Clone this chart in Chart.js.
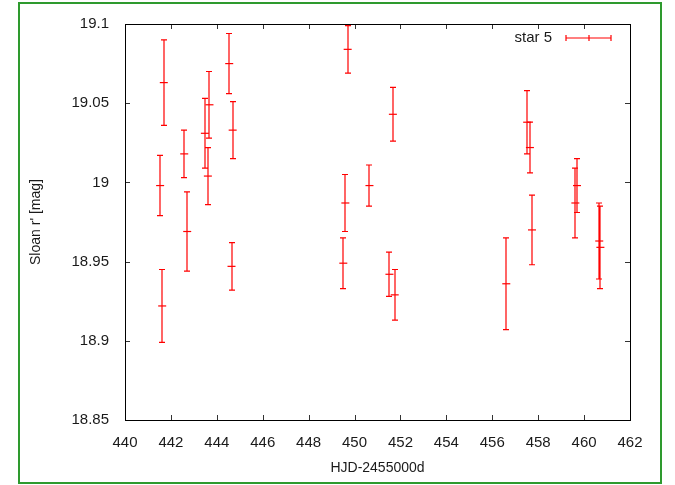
<!DOCTYPE html>
<html>
<head>
<meta charset="utf-8">
<script src="https://cdn.jsdelivr.net/npm/chart.js@4/dist/chart.umd.min.js"></script>
<style>
html, body { margin: 0; padding: 0; background: #fff; }
#wrap { position: relative; width: 675px; height: 485px; overflow: hidden; }
#frame { position: absolute; left: 18px; top: 2px; width: 640px; height: 478px; border: 2px solid #2e9a2e; }
canvas { position: absolute; left: 0; top: 0; }
</style>
</head>
<body>
<div id="wrap">
  <div id="frame"></div>
  <canvas id="lc" width="675" height="485"></canvas>
</div>
<script>
// star 5 photometry
var hjd = [441.69, 441.53, 441.62, 442.58, 442.71, 443.48, 443.68, 443.61, 444.54, 444.69, 444.64,
           449.70, 449.60, 449.51, 450.65, 451.67, 451.52, 451.75,
           456.61, 457.52, 457.64, 457.73, 459.62, 459.69, 460.66, 460.71];
var mag = [19.063, 18.998, 18.922, 19.018, 18.969, 19.031, 19.049, 19.004, 19.075, 19.033, 18.947,
           19.084, 18.987, 18.949, 18.998, 19.043, 18.942, 18.929,
           18.936, 19.038, 19.022, 18.970, 18.987, 18.998, 18.963, 18.959];
var err = [0.027, 0.019, 0.023, 0.015, 0.025, 0.022, 0.021, 0.018, 0.019, 0.018, 0.015,
           0.015, 0.018, 0.016, 0.013, 0.017, 0.014, 0.016,
           0.029, 0.020, 0.016, 0.022, 0.022, 0.017, 0.024, 0.026];
var xTicks = [440, 442, 444, 446, 448, 450, 452, 454, 456, 458, 460, 462];
var yTicks = [18.85, 18.9, 18.95, 19, 19.05, 19.1];
var seriesName = "star 5";

var red = "#ff0000";
var font = "'Liberation Sans', Arial, sans-serif";

// gnuplot-like box, inward mirrored ticks, error bars and legend
var gnuplotLook = {
    id: "gnuplotLook",
    afterDatasetsDraw: function (chart) {
        var c = chart.ctx, xs = chart.scales.x, ys = chart.scales.y, a = chart.chartArea;
        c.save();
        // error bars (left unsnapped so they come out soft like the original)
        c.strokeStyle = red;
        c.lineWidth = 1.2;
        c.beginPath();
        for (var i = 0; i < hjd.length; i++) {
            var px = Math.round(xs.getPixelForValue(hjd[i]));
            var top = ys.getPixelForValue(mag[i] + err[i]);
            var bot = ys.getPixelForValue(mag[i] - err[i]);
            c.moveTo(px, top); c.lineTo(px, bot);
            c.moveTo(px - 3, top); c.lineTo(px + 3, top);
            c.moveTo(px - 3, bot); c.lineTo(px + 3, bot);
        }
        c.stroke();

        // ticks
        c.lineWidth = 1;
        c.strokeStyle = "#333";
        c.beginPath();
        xs.ticks.forEach(function (t) {
            var p = Math.round(xs.getPixelForValue(t.value)) + 0.5;
            c.moveTo(p, a.bottom); c.lineTo(p, a.bottom - 5);
            c.moveTo(p, a.top); c.lineTo(p, a.top + 5);
        });
        ys.ticks.forEach(function (t) {
            var p = Math.round(ys.getPixelForValue(t.value)) + 0.5;
            c.moveTo(a.left, p); c.lineTo(a.left + 5, p);
            c.moveTo(a.right, p); c.lineTo(a.right - 5, p);
        });
        c.stroke();

        // box
        c.strokeStyle = "#000";
        c.strokeRect(Math.round(a.left) + 0.5, Math.round(a.top) + 0.5,
                     Math.round(a.right - a.left), Math.round(a.bottom - a.top));

        // legend
        var ly = a.top + 14, lx0 = a.right - 64, lx1 = a.right - 19;
        c.fillStyle = "#1a1a1a";
        c.font = "15px " + font;
        c.textAlign = "right";
        c.textBaseline = "middle";
        c.fillText(seriesName, lx0 - 14, ly);
        c.strokeStyle = red;
        c.lineWidth = 1.2;
        c.beginPath();
        c.moveTo(lx0, ly); c.lineTo(lx1, ly);
        c.moveTo(lx0, ly - 3); c.lineTo(lx0, ly + 3);
        c.moveTo(lx1, ly - 3); c.lineTo(lx1, ly + 3);
        var mid = Math.round((lx0 + lx1) / 2);
        c.moveTo(mid, ly - 3); c.lineTo(mid, ly + 3);
        c.stroke();
        c.restore();
    }
};

var pts = hjd.map(function (t, i) { return { x: t, y: mag[i] }; });

new Chart(document.getElementById("lc"), {
    type: "scatter",
    data: {
        datasets: [{
            label: seriesName,
            data: pts,
            pointStyle: "line",
            pointRadius: 4,
            pointBorderWidth: 1.2,
            borderColor: red,
            backgroundColor: red
        }]
    },
    options: {
        responsive: false,
        animation: false,
        layout: { padding: { left: 20, right: 45, top: 24, bottom: 5 } },
        plugins: { legend: { display: false }, tooltip: { enabled: false } },
        scales: {
            x: {
                type: "linear", min: 440, max: 462,
                afterFit: function (s) { s.height = 60; },
                afterBuildTicks: function (s) { s.ticks = xTicks.map(function (v) { return { value: v }; }); },
                grid: { display: false },
                border: { display: false },
                ticks: { padding: 6, color: "#1a1a1a", font: { family: font, size: 15 }, maxRotation: 0,
                         callback: function (v) { return String(v); } },
                title: { display: true, text: "HJD-2455000d", color: "#1a1a1a",
                         font: { family: font, size: 14 }, padding: { top: 0, bottom: 3 } }
            },
            y: {
                type: "linear", min: 18.85, max: 19.1,
                afterFit: function (s) { s.width = 105; },
                afterBuildTicks: function (s) { s.ticks = yTicks.map(function (v) { return { value: v }; }); },
                grid: { display: false },
                border: { display: false },
                ticks: { padding: 8, color: "#1a1a1a", font: { family: font, size: 15 },
                         callback: function (v) { return String(+(+v).toFixed(2)); } },
                title: { display: true, text: "Sloan r' [mag]", color: "#1a1a1a",
                         font: { family: font, size: 14 }, padding: { top: 8, bottom: 0 } }
            }
        }
    },
    plugins: [gnuplotLook]
});
</script>
</body>
</html>
